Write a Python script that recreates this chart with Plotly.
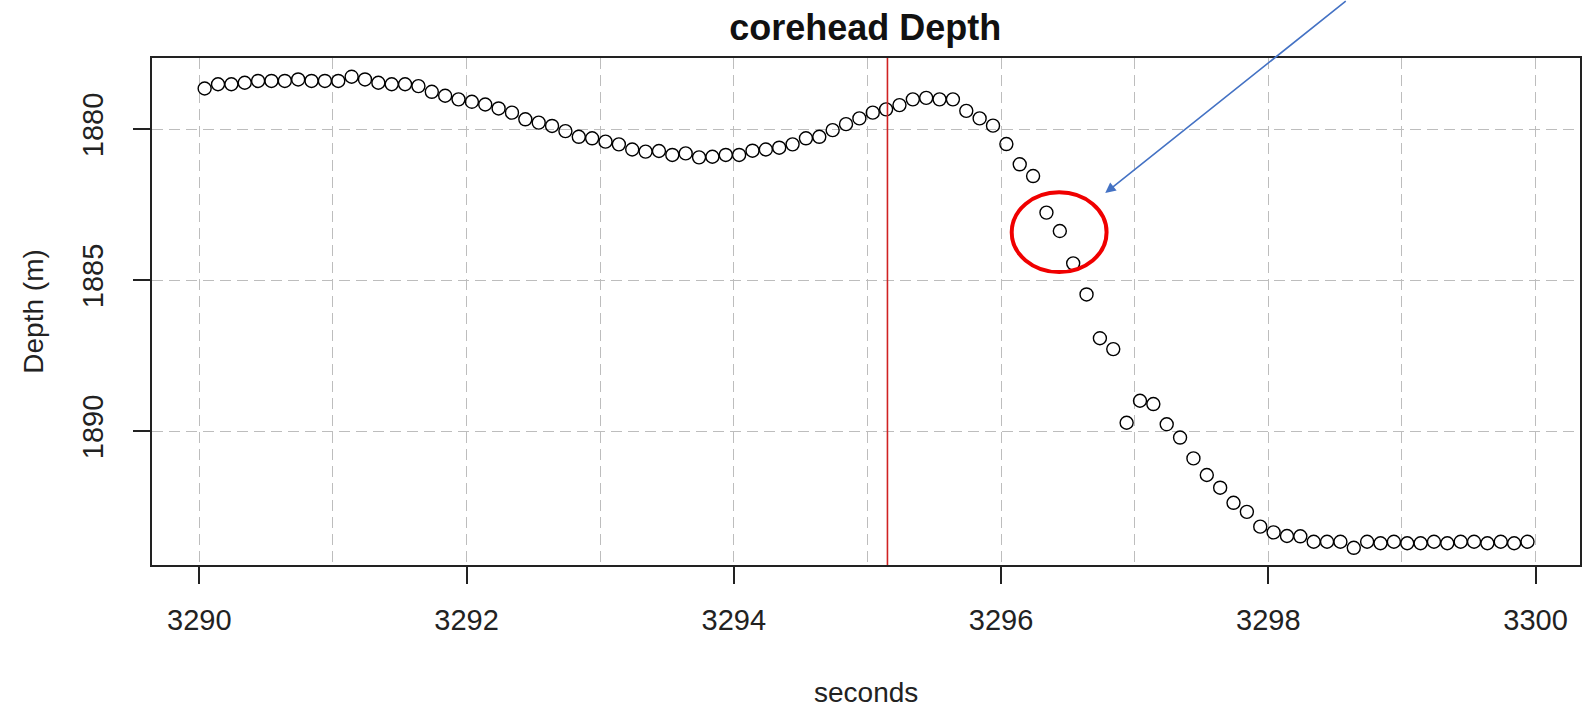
import plotly.graph_objects as go

# ---- data ----
seconds = [
    3290.04, 3290.14, 3290.24, 3290.34, 3290.44, 3290.54, 3290.64, 3290.74, 3290.84, 3290.94,
    3291.04, 3291.14, 3291.24, 3291.34, 3291.44, 3291.54, 3291.64, 3291.74, 3291.84, 3291.94,
    3292.04, 3292.14, 3292.24, 3292.34, 3292.44, 3292.54, 3292.64, 3292.74, 3292.84, 3292.94,
    3293.04, 3293.14, 3293.24, 3293.34, 3293.44, 3293.54, 3293.64, 3293.74, 3293.84, 3293.94,
    3294.04, 3294.14, 3294.24, 3294.34, 3294.44, 3294.54, 3294.64, 3294.74, 3294.84, 3294.94,
    3295.04, 3295.14, 3295.24, 3295.34, 3295.44, 3295.54, 3295.64, 3295.74, 3295.84, 3295.94,
    3296.04, 3296.14, 3296.24, 3296.34, 3296.44, 3296.54, 3296.64, 3296.74, 3296.84, 3296.94,
    3297.04, 3297.14, 3297.24, 3297.34, 3297.44, 3297.54, 3297.64, 3297.74, 3297.84, 3297.94,
    3298.04, 3298.14, 3298.24, 3298.34, 3298.44, 3298.54, 3298.64, 3298.74, 3298.84, 3298.94,
    3299.04, 3299.14, 3299.24, 3299.34, 3299.44, 3299.54, 3299.64, 3299.74, 3299.84, 3299.94,
]
depth_m = [
    1878.65, 1878.51, 1878.51, 1878.46, 1878.40, 1878.40, 1878.40, 1878.35, 1878.40, 1878.40,
    1878.40, 1878.26, 1878.35, 1878.46, 1878.51, 1878.51, 1878.57, 1878.76, 1878.89, 1879.01,
    1879.09, 1879.18, 1879.31, 1879.45, 1879.67, 1879.78, 1879.89, 1880.06, 1880.25, 1880.30,
    1880.41, 1880.50, 1880.67, 1880.74, 1880.72, 1880.85, 1880.80, 1880.93, 1880.91, 1880.85,
    1880.85, 1880.71, 1880.67, 1880.61, 1880.50, 1880.30, 1880.25, 1880.03, 1879.83, 1879.64,
    1879.45, 1879.34, 1879.20, 1879.01, 1878.96, 1879.01, 1879.01, 1879.39, 1879.64, 1879.88,
    1880.49, 1881.16, 1881.55, 1882.76, 1883.37, 1884.44, 1885.47, 1886.92, 1887.28, 1889.72,
    1888.99, 1889.10, 1889.77, 1890.21, 1890.90, 1891.45, 1891.87, 1892.37, 1892.67, 1893.16,
    1893.35, 1893.47, 1893.48, 1893.66, 1893.66, 1893.66, 1893.86, 1893.66, 1893.71, 1893.66,
    1893.71, 1893.71, 1893.66, 1893.71, 1893.66, 1893.66, 1893.71, 1893.66, 1893.71, 1893.66,
]
x_ticks = [3290, 3292, 3294, 3296, 3298, 3300]
y_ticks = [1880, 1885, 1890]
marker_time = 3295.15          # red vertical line
highlight = dict(x0=3296.08, x1=3296.79, y0=1882.09, y1=1884.73)   # red ellipse
arrow_tip = (3296.78, 1882.11)

FONT = "Liberation Sans, Arial, sans-serif"
GRID = "#bdbdbd"

fig = go.Figure()
fig.add_trace(go.Scatter(
    x=seconds, y=depth_m, mode="markers",
    marker=dict(symbol="circle-open", size=13, color="black", line=dict(width=1.4, color="black")),
    showlegend=False, hoverinfo="x+y",
))

# red vertical line
fig.add_shape(type="line", xref="x", yref="paper", x0=marker_time, x1=marker_time, y0=0, y1=1,
              line=dict(color="#d02222", width=1.6), layer="above")
# red ellipse highlight
fig.add_shape(type="circle", xref="x", yref="y", **highlight,
              line=dict(color="#f00000", width=4), layer="above")
# blue arrow
fig.add_annotation(x=arrow_tip[0], y=arrow_tip[1], xref="x", yref="y", text="",
                   showarrow=True, ax=242, ay=-198, axref="pixel", ayref="pixel",
                   arrowhead=2, arrowsize=1.3, arrowwidth=1.6, arrowcolor="#4472c4")

# axis titles
fig.add_annotation(text="seconds", xref="paper", yref="paper", x=0.5, y=-0.2505,
                   showarrow=False, font=dict(family=FONT, size=28, color="#222"),
                   xanchor="center", yanchor="middle")
fig.add_annotation(text="Depth (m)", xref="paper", yref="paper", x=-0.0832, y=0.5,
                   showarrow=False, textangle=-90, font=dict(family=FONT, size=28, color="#222"),
                   xanchor="center", yanchor="middle")

fig.update_layout(
    width=1583, height=708,
    margin=dict(l=152, r=1, t=58, b=143),
    paper_bgcolor="white", plot_bgcolor="white",
    font=dict(family=FONT, size=28, color="#222"),
    title=dict(text="<b>corehead Depth</b>", x=0.5466, xanchor="center",
               y=1 - 27 / 708, yanchor="middle", yref="container",
               font=dict(family=FONT, size=36, color="#111")),
)
fig.update_xaxes(
    range=[3289.646, 3300.333], tickvals=x_ticks, ticktext=[str(v) for v in x_ticks],
    ticks="outside", ticklen=17, tickwidth=2, tickcolor="#222",
    showline=True, linecolor="#222", linewidth=2, mirror=True,
    showgrid=True, gridcolor=GRID, griddash="11px,6px", gridwidth=1.4,
    minor=dict(tickvals=[3291, 3293, 3295, 3297, 3299], showgrid=True, gridcolor=GRID,
               griddash="11px,6px", gridwidth=1.4, ticks=""),
    zeroline=False, ticklabelstandoff=11,
    tickfont=dict(family=FONT, size=29, color="#222"),
)
fig.update_yaxes(
    range=[1894.43, 1877.64], tickvals=y_ticks, ticktext=[str(v) for v in y_ticks],
    tickangle=-90,
    ticks="outside", ticklen=17, tickwidth=2, tickcolor="#222",
    showline=True, linecolor="#222", linewidth=2, mirror=True,
    showgrid=True, gridcolor=GRID, griddash="11px,6px", gridwidth=1.4,
    zeroline=False, ticklabelstandoff=18,
    tickfont=dict(family=FONT, size=29, color="#222"),
)

fig.write_html("out.html")
